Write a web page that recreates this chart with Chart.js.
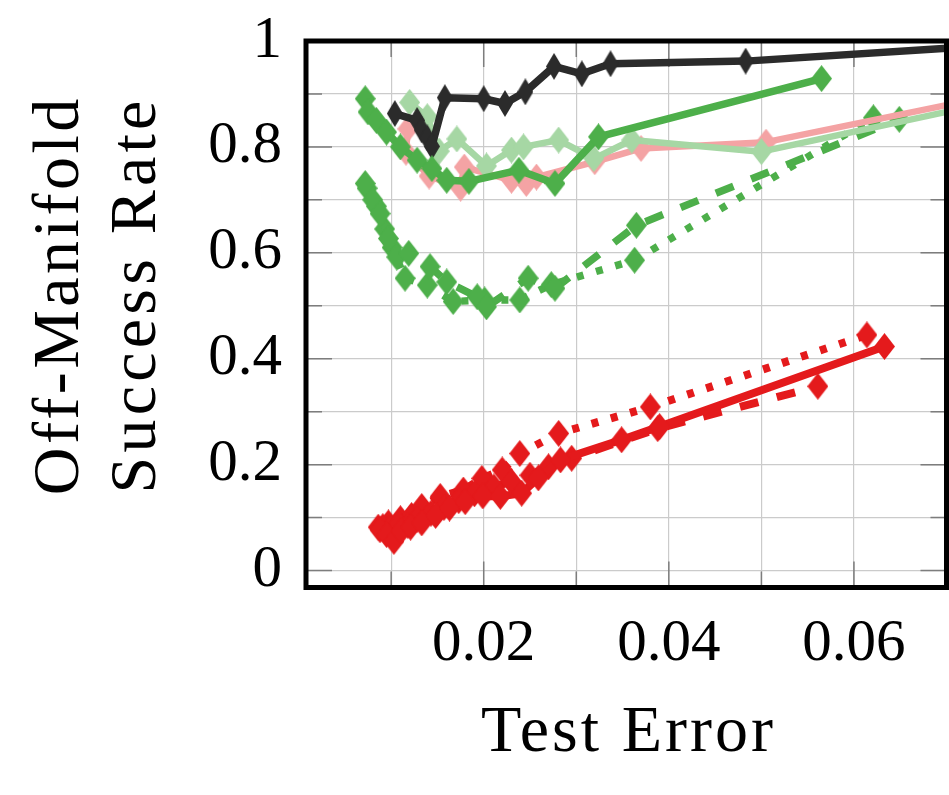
<!DOCTYPE html>
<html>
<head>
<meta charset="utf-8">
<script src="https://cdn.jsdelivr.net/npm/chart.js@4/dist/chart.umd.min.js"></script>
<style>
  html, body { margin: 0; padding: 0; background: #fff; }
  #wrap { width: 949px; height: 795px; }
</style>
</head>
<body>
<div id="wrap"><canvas id="chart" width="949" height="795"></canvas></div>
<script>
// values (x = test error, y = success rate)
const blackX = [0.0104, 0.0128, 0.0133, 0.0139, 0.0144, 0.0158, 0.0200, 0.0223, 0.0245, 0.0276, 0.0306, 0.0337, 0.0483, 0.075];
const blackY = [0.863, 0.850, 0.832, 0.817, 0.801, 0.893, 0.891, 0.882, 0.904, 0.952, 0.938, 0.957, 0.962, 0.992];

const greenX = [0.0072, 0.0075, 0.0084, 0.0095, 0.0110, 0.0128, 0.0144, 0.0160, 0.0184, 0.0238, 0.0277, 0.0324, 0.0565];
const greenY = [0.891, 0.866, 0.850, 0.828, 0.800, 0.775, 0.759, 0.737, 0.735, 0.756, 0.731, 0.819, 0.929];

const lightGreenX = [0.0120, 0.0139, 0.0152, 0.0171, 0.0203, 0.0230, 0.0243, 0.0281, 0.0319, 0.0360, 0.0500, 0.075];
const lightGreenY = [0.884, 0.857, 0.792, 0.815, 0.764, 0.794, 0.800, 0.813, 0.778, 0.813, 0.791, 0.885];

const pinkX = [0.0118, 0.0116, 0.0141, 0.0175, 0.0179, 0.0230, 0.0246, 0.0257, 0.0320, 0.0370, 0.0505, 0.075];
const pinkY = [0.834, 0.790, 0.745, 0.722, 0.762, 0.737, 0.731, 0.743, 0.772, 0.797, 0.809, 0.897];

const greenDashX = [0.0072, 0.0080, 0.0088, 0.0097, 0.0106, 0.0119, 0.0142, 0.0160, 0.0193, 0.0203, 0.0248, 0.0277, 0.0365, 0.0649];
const greenDashY = [0.731, 0.700, 0.674, 0.627, 0.592, 0.599, 0.574, 0.545, 0.517, 0.498, 0.552, 0.533, 0.652, 0.852];

const greenDotX = [0.0074, 0.0084, 0.0093, 0.0101, 0.0115, 0.0139, 0.0167, 0.0201, 0.0239, 0.0273, 0.0363, 0.0621];
const greenDotY = [0.722, 0.688, 0.645, 0.610, 0.552, 0.539, 0.508, 0.511, 0.511, 0.540, 0.586, 0.855];

const redX = [0.0088, 0.0095, 0.0103, 0.0111, 0.0121, 0.0133, 0.0148, 0.0163, 0.0180, 0.0199, 0.0218, 0.0241, 0.0259, 0.0283, 0.0349, 0.0390, 0.0633];
const redY = [0.077, 0.068, 0.055, 0.075, 0.082, 0.090, 0.104, 0.118, 0.130, 0.141, 0.140, 0.146, 0.175, 0.209, 0.247, 0.272, 0.423];

const redDashX = [0.0091, 0.0099, 0.0108, 0.0118, 0.0128, 0.0143, 0.0157, 0.0173, 0.0190, 0.0211, 0.0230, 0.0250, 0.0270, 0.0295, 0.0388, 0.0561];
const redDashY = [0.083, 0.080, 0.088, 0.085, 0.097, 0.108, 0.119, 0.132, 0.145, 0.158, 0.168, 0.180, 0.196, 0.212, 0.268, 0.348];

const redDotX = [0.0086, 0.0097, 0.0110, 0.0122, 0.0133, 0.0153, 0.0178, 0.0198, 0.0220, 0.0239, 0.0281, 0.0380, 0.0614];
const redDotY = [0.082, 0.090, 0.098, 0.104, 0.121, 0.140, 0.152, 0.174, 0.190, 0.221, 0.259, 0.309, 0.445];

// axis ranges and ticks
const xRange = [0.0008, 0.07];
const yRange = [-0.032, 1.0];
const xStep = 0.01;
const yStep = 0.1;

// where the plot box sits in the 949x795 picture
const AREA = { left: 306, top: 41, right: 946.5, bottom: 587.5 };

const FONT = '"Liberation Serif", "Times New Roman", serif';

function zip(xs, ys) {
    return xs.map((x, i) => ({ x: x, y: ys[i] }));
}

// tall diamond marker, like pgfplots diamond*
function diamond(color, w, h) {
    const c = document.createElement('canvas');
    c.width = w;
    c.height = h;
    const g = c.getContext('2d');
    g.fillStyle = color;
    g.beginPath();
    g.moveTo(w / 2, 0);
    g.lineTo(w, h / 2);
    g.lineTo(w / 2, h);
    g.lineTo(0, h / 2);
    g.closePath();
    g.fill();
    return c;
}

function series(xs, ys, color, width, dash, mw) {
    return {
        data: zip(xs, ys),
        showLine: true,
        borderColor: color,
        backgroundColor: color,
        borderWidth: width,
        borderDash: dash || [],
        borderCapStyle: 'butt',
        borderJoinStyle: 'round',
        pointStyle: diamond(color, mw || 21, 27),
        pointRadius: 11,
        tension: 0
    };
}

const BLACK = '#2b2b2b';
const GREEN = '#4daf4a';
const LIGHT_GREEN = '#a6d7a4';
const PINK = '#f4a3a4';
const RED = '#e41a1c';
const DASH = [19, 19];
const DOT = [7, 13];

// drop the room Chart.js keeps for edge labels so the box lands on AREA
function noEdgePadding(s) {
    s.paddingTop = 0;
    s.paddingBottom = 0;
    s.paddingLeft = 0;
    s.paddingRight = 0;
}

// inner tick marks on all four sides
const innerTicks = {
    id: 'innerTicks',
    beforeDatasetsDraw(chart) {
        const { ctx, chartArea: a, scales: { x, y } } = chart;
        ctx.save();
        ctx.strokeStyle = '#7d7d7d';
        ctx.lineWidth = 1.5;
        ctx.beginPath();
        x.ticks.forEach(t => {
            const px = x.getPixelForValue(t.value);
            const len = t.label ? 26 : 16;
            ctx.moveTo(px, a.bottom);
            ctx.lineTo(px, a.bottom - len);
            ctx.moveTo(px, a.top);
            ctx.lineTo(px, a.top + len);
        });
        y.ticks.forEach(t => {
            const py = y.getPixelForValue(t.value);
            const len = t.label ? 26 : 16;
            ctx.moveTo(a.left, py);
            ctx.lineTo(a.left + len, py);
            ctx.moveTo(a.right, py);
            ctx.lineTo(a.right - len, py);
        });
        ctx.stroke();
        ctx.restore();
    }
};

// thick black box round the plot
const frame = {
    id: 'frame',
    afterDatasetsDraw(chart) {
        const { ctx, chartArea: a } = chart;
        ctx.save();
        ctx.strokeStyle = '#000';
        ctx.lineWidth = 5;
        ctx.strokeRect(a.left, a.top, a.right - a.left, a.bottom - a.top);
        ctx.restore();
    }
};

// axis titles, spaced out a little to match the wider TeX font
function spacedText(ctx, text, x, y, width) {
    ctx.letterSpacing = '0px';
    const w = ctx.measureText(text).width;
    const sp = Math.max(0, (width - w) / text.length);
    ctx.letterSpacing = sp + 'px';
    ctx.fillText(text, x + sp / 2, y);
    ctx.letterSpacing = '0px';
}

const titles = {
    id: 'titles',
    afterDraw(chart) {
        const ctx = chart.ctx;
        ctx.save();
        ctx.fillStyle = '#000';
        ctx.font = '66px ' + FONT;
        ctx.textAlign = 'center';
        ctx.textBaseline = 'alphabetic';
        spacedText(ctx, 'Test Error', 627, 751, 295);

        ctx.translate(0, 297);
        ctx.rotate(-Math.PI / 2);
        spacedText(ctx, 'Off-Manifold', 0, 78, 400);
        spacedText(ctx, 'Success Rate', 0, 155, 397);
        ctx.restore();
    }
};

new Chart(document.getElementById('chart'), {
    type: 'scatter',
    data: {
        datasets: [
            series(greenX, greenY, GREEN, 7.5),
            series(blackX, blackY, BLACK, 7.5, null, 16),
            series(lightGreenX, lightGreenY, LIGHT_GREEN, 6.5),
            series(pinkX, pinkY, PINK, 6.5),
            series(greenDashX, greenDashY, GREEN, 7.5, DASH),
            series(greenDotX, greenDotY, GREEN, 7.5, DOT),
            series(redX, redY, RED, 8),
            series(redDashX, redDashY, RED, 8, DASH),
            series(redDotX, redDotY, RED, 8, DOT)
        ]
    },
    options: {
        responsive: false,
        animation: false,
        events: [],
        layout: {
            autoPadding: false,
            padding: { top: AREA.top, right: 949 - AREA.right, left: 0, bottom: 0 }
        },
        plugins: {
            legend: { display: false },
            tooltip: { enabled: false }
        },
        scales: {
            x: {
                type: 'linear',
                min: xRange[0],
                max: xRange[1],
                border: { display: false },
                grid: { color: '#cbcbcb', lineWidth: 1.2, drawTicks: false },
                ticks: {
                    stepSize: xStep,
                    includeBounds: false,
                    autoSkip: false,
                    maxRotation: 0,
                    padding: 22,
                    color: '#000',
                    font: { family: FONT, size: 59 },
                    callback: v => Math.round(v * 100) % 2 === 0 ? (Math.round(v * 100) / 100).toFixed(2) : ''
                },
                afterFit(s) {
                    s.height = 795 - AREA.bottom;
                    noEdgePadding(s);
                }
            },
            y: {
                type: 'linear',
                min: yRange[0],
                max: yRange[1],
                border: { display: false },
                grid: { color: '#cbcbcb', lineWidth: 1.2, drawTicks: false },
                ticks: {
                    stepSize: yStep,
                    includeBounds: false,
                    autoSkip: false,
                    padding: 24,
                    color: '#000',
                    font: { family: FONT, size: 59 },
                    callback: v => {
                        const k = Math.round(v * 10);
                        if (k % 2 !== 0) return '';
                        return k === 0 ? '0' : k === 10 ? '1' : (k / 10).toFixed(1);
                    }
                },
                afterFit(s) {
                    s.width = AREA.left;
                    noEdgePadding(s);
                }
            }
        }
    },
    plugins: [innerTicks, frame, titles]
});
</script>
</body>
</html>
